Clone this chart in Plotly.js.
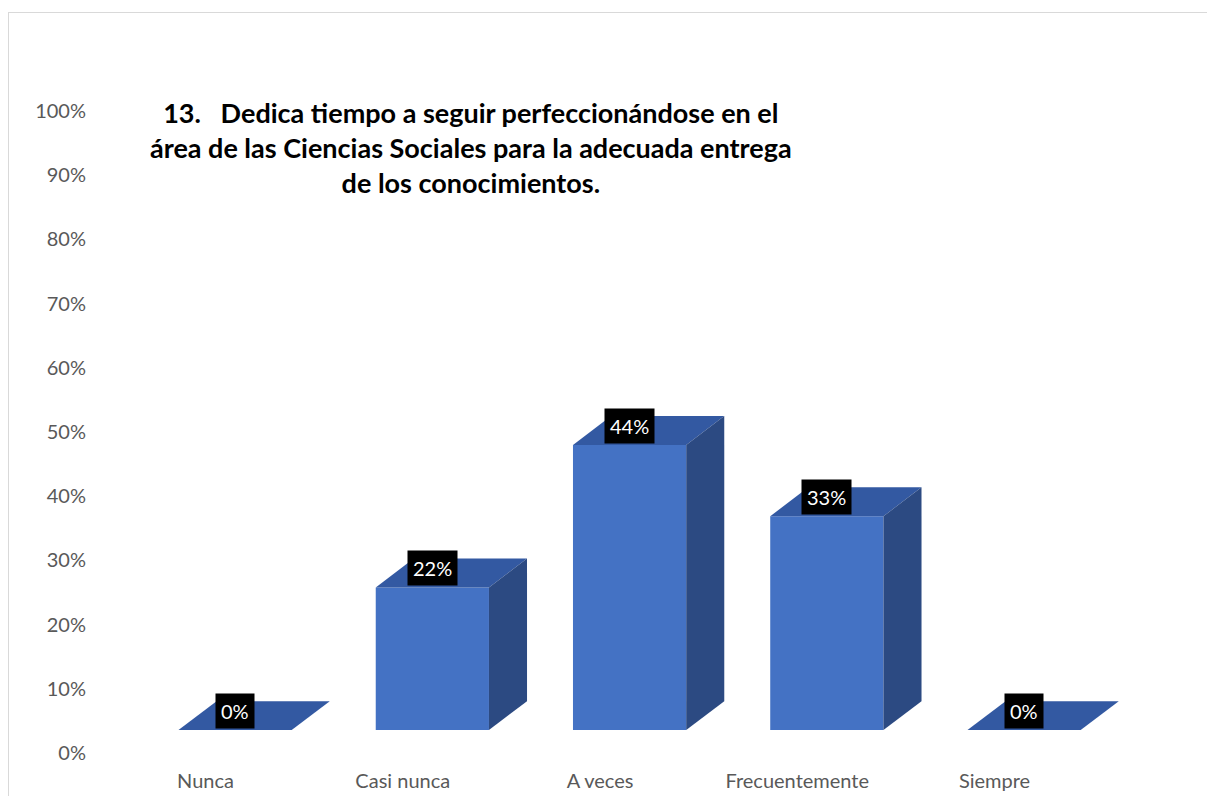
<!DOCTYPE html>
<html>
<head>
<meta charset="utf-8">
<script src="https://cdn.plot.ly/plotly-3.0.1.min.js"></script>
<style>
html,body{margin:0;padding:0;background:#fff;}
#chart{width:1207px;height:796px;}
#frame{position:absolute;left:8px;top:12px;width:1199px;height:784px;border-left:1px solid #d9d9d9;border-top:1px solid #d9d9d9;pointer-events:none;}
</style>
</head>
<body>
<div id="chart"></div>
<div id="frame"></div>
<script>
// ---- data ----
const categories = ["Nunca", "Casi nunca", "A veces", "Frecuentemente", "Siempre"];
const values = [0, 0.222, 0.444, 0.333, 0];
const yTickVals = [0, 0.1, 0.2, 0.3, 0.4, 0.5, 0.6, 0.7, 0.8, 0.9, 1.0];
const yTickText = ["0%", "10%", "20%", "30%", "40%", "50%", "60%", "70%", "80%", "90%", "100%"];
const titleText = "13.   Dedica tiempo a seguir perfeccionándose en el<br>área de las Ciencias Sociales para la adecuada entrega<br>de los conocimientos.";

// ---- styling / geometry (3D look) ----
const FONT = "Lato, 'Open Sans', sans-serif";
const FRONT = "#4472C4", TOP = "#3359A2", SIDE = "#2C4A82";
const barWidth = 0.574;     // in category units
const barOffset = -0.137;   // left edge relative to category
const depthX = 0.193;       // depth shift in x (category units)
const depthY = 0.045;       // depth shift in y (value units)
const floorShift = 0.0358;  // bars' floor sits below the back-wall axis

const idx = categories.map((c, i) => i);
const traces = [];

// front faces
traces.push({
  type: "bar", x: idx, y: values, width: barWidth, offset: barOffset,
  marker: {color: FRONT, line: {width: 0}}, yaxis: "y2", hoverinfo: "skip", showlegend: false
});

// top and side faces
idx.forEach(i => {
  const v = values[i];
  const xl = i + barOffset, xr = xl + barWidth;
  traces.push({
    type: "scatter", mode: "lines", fill: "toself", fillcolor: TOP,
    line: {width: 0, color: TOP}, yaxis: "y2", hoverinfo: "skip", showlegend: false,
    x: [xl, xr, xr + depthX, xl + depthX, xl],
    y: [v, v, v + depthY, v + depthY, v]
  });
  if (v > 0) {
    traces.push({
      type: "scatter", mode: "lines", fill: "toself", fillcolor: SIDE,
      line: {width: 0, color: SIDE}, yaxis: "y2", hoverinfo: "skip", showlegend: false,
      x: [xr, xr, xr + depthX, xr + depthX, xr],
      y: [0, v, v + depthY, depthY, 0]
    });
  }
});

// axis driver trace (invisible) for the labelled y axis
traces.push({type: "scatter", x: [0], y: [0], mode: "markers", marker: {opacity: 0}, hoverinfo: "skip", showlegend: false});

const annotations = idx.map(i => ({
  x: i + barOffset + barWidth / 2,
  y: values[i] + depthY / 2,
  xref: "x", yref: "y2",
  yshift: 5,
  text: Math.round(values[i] * 100) + "%",
  showarrow: false,
  bgcolor: "#000000",
  borderpad: 5,
  font: {family: FONT, size: 20, color: "#ffffff"}
}));

annotations.push({
  xref: "paper", yref: "paper", x: 0.3435, y: 1.0, yanchor: "middle",
  xanchor: "center", align: "center", showarrow: false,
  text: "<b>" + titleText + "</b>",
  font: {family: FONT, size: 27, color: "#000000"},
  yshift: -36
});

const layout = {
  width: 1207, height: 796,
  paper_bgcolor: "#ffffff", plot_bgcolor: "#ffffff",
  margin: {l: 90, r: 7, t: 111, b: 43},
  showlegend: false,
  xaxis: {
    range: [-0.5856, 5.0418], tickvals: idx, ticktext: categories,
    showgrid: false, zeroline: false, showline: false, ticks: "",
    ticklabelstandoff: 14,
    tickfont: {family: FONT, size: 20, color: "#595959"}
  },
  yaxis: {
    range: [0, 1], tickvals: yTickVals, ticktext: yTickText,
    showgrid: false, zeroline: false, showline: false, ticks: "",
    ticklabelstandoff: 3,
    tickfont: {family: FONT, size: 20, color: "#595959"}
  },
  yaxis2: {
    overlaying: "y", range: [-floorShift, 1 - floorShift],
    visible: false, showgrid: false, zeroline: false
  },
  annotations: annotations
};

Plotly.newPlot("chart", traces, layout, {displayModeBar: false, staticPlot: true});
</script>
</body>
</html>
